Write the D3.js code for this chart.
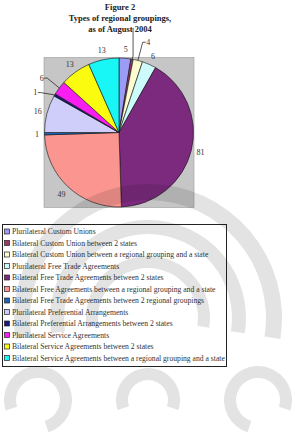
<!DOCTYPE html>
<html><head><meta charset="utf-8">
<script src="https://cdn.jsdelivr.net/npm/d3@7"></script>
<style>html,body{margin:0;padding:0;background:#fff;}svg{display:block;}</style>
</head><body>
<svg id="c" width="295" height="448"></svg>
<script>
const categories = [
  "Plurilateral Custom Unions",
  "Bilateral Custom Union between 2 states",
  "Bilateral Custom Union between a regional grouping and a state",
  "Plurilateral Free Trade Agreements",
  "Bilateral Free Trade Agreements between 2 states",
  "Bilateral Free Agreements between a regional grouping and a state",
  "Bilateral Free Trade Agreements between 2 regional groupings",
  "Plurilateral Preferential Arrangements",
  "Bilateral Preferential Arrangements between 2 states",
  "Plurilateral Service Agreements",
  "Bilateral Service Agreements between 2 states",
  "Bilateral Service Agreements between a regional grouping and a state"
];
const values = [5, 1, 4, 6, 81, 49, 1, 16, 1, 6, 13, 13];
const colors = ["#9c9cf6","#9a3a66","#fdfbd0","#cdfbfb","#7b2a7e","#fb9590","#1a66b8","#cfcdfa","#1a1a78","#f81ef2","#fbfb10","#18f6f6"];
const titleLines = ["Figure 2", "Types of regional groupings,", "as of August 2004"];

const svg = d3.select("#c");
const cx = 119, cy = 132.5, r = 74.5;
const serif = "Liberation Serif, Times New Roman, serif";

// plot area
svg.append("rect").attr("x", 44).attr("y", 57.5).attr("width", 150).attr("height", 150)
  .attr("fill", "#c6c6c6").attr("stroke", "#9a9a9a").attr("stroke-width", 0.6);

const pie = d3.pie().sort(null).value(d => d)(values);
const arc = d3.arc().innerRadius(0).outerRadius(r);
const g = svg.append("g").attr("transform", `translate(${cx},${cy})`);
g.selectAll("path").data(pie).join("path")
  .attr("d", arc).attr("fill", (d, i) => colors[i])
  .attr("stroke", "#111").attr("stroke-width", 0.6);

const labelLayout = [
  {r: 84}, {r: 105, da: 0, leader: true, hidden: true}, {r: 94, da: 1.5, leader: true}, {r: 84},
  {r: 84}, {r: 84}, {r: 82}, {r: 84}, {r: 90, da: -4, leader: true}, {r: 92, da: -0.5, leader: true}, {r: 84}, {r: 84}
];
const toXY = (ang, rad) => [Math.sin(ang) * rad, -Math.cos(ang) * rad];
pie.forEach((d, i) => {
  const L = labelLayout[i];
  const mid = (d.startAngle + d.endAngle) / 2;
  const ang = mid + (L.da || 0) * Math.PI / 180;
  let [lx, ly] = toXY(ang, L.r);
  if (L.leader) {
    const [ex, ey] = toXY(mid, r);
    let pts;
    if (L.hidden) {
      pts = [[ex, ey], [ex + 1, ey - 3], [ex + 1, -104.5]];
    } else {
      const side = Math.sin(ang) >= 0 ? 1 : -1;
      const hx = lx - side * 2.5;
      pts = [[ex, ey], [hx, ly], [hx + side * 3, ly]];
      lx = hx + side * 5.5;
    }
    g.append("path").attr("d", d3.line()(pts)).attr("fill", "none")
      .attr("stroke", "#111").attr("stroke-width", 0.7);
    if (L.hidden) return;
  }
  g.append("text").attr("x", lx).attr("y", ly).attr("dy", "0.35em")
    .attr("text-anchor", "middle")
    .attr("font-family", serif).attr("font-size", 8)
    .attr("fill", "#333").text(values[i]);
});

// title
svg.append("g").selectAll("text").data(titleLines).join("text")
  .attr("x", 120).attr("y", (d, i) => 10 + i * 11)
  .attr("text-anchor", "middle").attr("font-family", serif)
  .attr("font-weight", "bold").attr("font-size", 8.5).attr("fill", "#222").text(d => d);

// legend
const lg = svg.append("g");
lg.append("rect").attr("x", 2.5).attr("y", 224.5).attr("width", 224).attr("height", 142)
  .attr("fill", "none").attr("stroke", "#222").attr("stroke-width", 1);
const rows = lg.selectAll("g.row").data(categories).join("g")
  .attr("transform", (d, i) => `translate(4, ${231.5 + i * 11.5})`);
rows.append("rect").attr("x", 0.5).attr("y", -2.5).attr("width", 5).attr("height", 5)
  .attr("fill", (d, i) => colors[i]).attr("stroke", "#222").attr("stroke-width", 0.7);
rows.append("text").attr("x", 8).attr("y", 0).attr("dy", "0.35em")
  .attr("font-family", serif).attr("font-size", 7.65)
  .attr("fill", "#333").text(d => d);

// faint background watermark ornament (decorative)
const wm = svg.append("g").attr("style", "mix-blend-mode:multiply").attr("opacity", 0.11)
  .attr("fill", "#000");
const band = d3.arc();
[[118, 134], [84, 98], [50, 62]].forEach(([ri, ro]) => {
  wm.append("path").attr("transform", "translate(148,318)")
    .attr("d", band({innerRadius: ri, outerRadius: ro, startAngle: -Math.PI * 0.55, endAngle: Math.PI * 0.55}));
});
[[-1], [1]].forEach(([s]) => {
  wm.append("path").attr("transform", `translate(${148 + s * 110},400) scale(${s},1)`)
    .attr("d", band({innerRadius: 22, outerRadius: 34, startAngle: -Math.PI * 0.9, endAngle: Math.PI * 0.6}));
});
wm.append("path").attr("transform", "translate(148,400)")
  .attr("d", band({innerRadius: 20, outerRadius: 32, startAngle: -Math.PI * 0.6, endAngle: Math.PI * 0.6}));
</script>
</body></html>
